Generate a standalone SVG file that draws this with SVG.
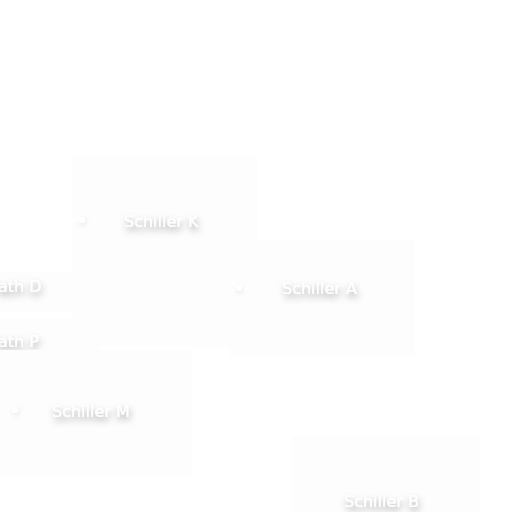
<svg xmlns="http://www.w3.org/2000/svg" width="512" height="512" viewBox="0 0 512 512">
<defs>
<filter id="ts" x="-30%" y="-100%" width="160%" height="300%">
<feGaussianBlur in="SourceAlpha" stdDeviation="3.5"/>
<feOffset dx="1" dy="4" result="b"/>
<feFlood flood-color="#000" flood-opacity="0.38"/>
<feComposite in2="b" operator="in" result="s"/>
<feMerge><feMergeNode in="s"/><feMergeNode in="SourceGraphic"/></feMerge>
</filter>
<filter id="ds" x="-150%" y="-150%" width="400%" height="400%">
<feGaussianBlur in="SourceAlpha" stdDeviation="2.5"/>
<feOffset dx="1" dy="2" result="b"/>
<feFlood flood-color="#000" flood-opacity="0.1"/>
<feComposite in2="b" operator="in" result="s"/>
<feMerge><feMergeNode in="s"/><feMergeNode in="SourceGraphic"/></feMerge>
</filter>
</defs>
<style>
.box{fill:#fdfdfd}
.lbl{font-family:"DejaVu Sans",Verdana,sans-serif;font-size:16px;fill:#ffffff;filter:url(#ts)}
.con{stroke:#ffffff;stroke-width:2;fill:none}
.dot{fill:#ffffff;filter:url(#ds)}
</style>
<rect width="512" height="512" fill="#ffffff"/>
<g id="node-schiller-k"><rect class="box" x="72" y="157" width="186" height="190"/><text class="lbl" x="124" y="227">Schiller K</text></g>
<g id="node-path-d"><rect class="box" x="-10" y="272" width="110" height="40"/><text class="lbl" x="-11" y="292">Path D</text></g>
<g id="node-path-p"><rect class="box" x="-10" y="318" width="110" height="32"/><text class="lbl" x="-11" y="347">Path P</text></g>
<g id="node-schiller-a"><rect class="box" x="230" y="240" width="185" height="117"/><text class="lbl" x="282" y="294">Schiller A</text></g>
<g id="node-schiller-m"><rect class="box" x="0" y="350" width="192" height="125"/><text class="lbl" x="52" y="417">Schiller M</text></g>
<g id="node-schiller-b"><rect class="box" x="292" y="436" width="188" height="90"/><text class="lbl" x="344" y="507">Schiller B</text></g>
<g id="connectors">
<line class="con" x1="239" y1="288" x2="258" y2="288"/>
<line class="con" x1="72" y1="220" x2="82" y2="220"/>
<circle class="dot" cx="82" cy="220" r="3"/>
<circle class="dot" cx="239" cy="288" r="3"/>
<circle class="dot" cx="15" cy="410" r="3"/>
</g>
</svg>
